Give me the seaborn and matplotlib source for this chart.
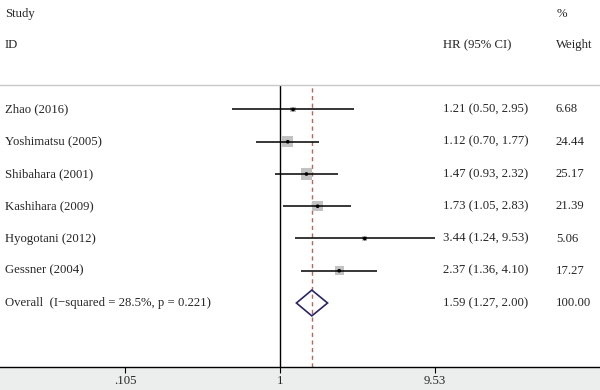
import numpy as np
import pandas as pd
import matplotlib
matplotlib.use("Agg")
import matplotlib.pyplot as plt
from matplotlib.patches import Rectangle, Polygon
import seaborn as sns

studies = ["Zhao (2016)", "Yoshimatsu (2005)", "Shibahara (2001)", "Kashihara (2009)",
           "Hyogotani (2012)", "Gessner (2004)"]
hr = [1.21, 1.12, 1.47, 1.73, 3.44, 2.37]
lo = [0.50, 0.70, 0.93, 1.05, 1.24, 1.36]
hi = [2.95, 1.77, 2.32, 2.83, 9.53, 4.10]
weight = [6.68, 24.44, 25.17, 21.39, 5.06, 17.27]
overall_label = "Overall  (I\u2212squared = 28.5%, p = 0.221)"
overall = [1.59, 1.27, 2.00]
overall_weight = 100.00
xticks = [0.105, 1, 9.53]
xtick_labels = [".105", "1", "9.53"]

sns.set_theme(style="white")
plt.rcParams['font.family'] = ['Liberation Serif', 'DejaVu Serif']
FS = 9.2

W, H = 600, 390
fig = plt.figure(figsize=(6, 3.9), dpi=100)
fig.patch.set_facecolor("white")

top_px, bot_px = 85, 367
ax = fig.add_axes([0, (H - bot_px) / H, 1, (bot_px - top_px) / H])
ax.set_facecolor("white")

# x scale: 1 at pixel 280, 158 px per decade
ppd = 158.0
xl = 10 ** (-280 / ppd)
xr = 10 ** ((600 - 280) / ppd)
ax.set_xscale("log")
ax.set_xlim(xl, xr)

row0 = 109.5
sp = 32.25
ax.set_ylim((bot_px - row0) / sp, (top_px - row0) / sp)

df = pd.DataFrame({"study": studies, "hr": hr, "lo": lo, "hi": hi, "w": weight,
                   "row": np.arange(len(studies))})

# CI lines
ax.hlines(df["row"], df["lo"], df["hi"], color="black", lw=1.1, zorder=3)
# weight squares
sns.scatterplot(data=df, x="hr", y="row", size="w", sizes=(2.56 * min(weight), 2.56 * max(weight)),
                size_norm=(min(weight), max(weight)), marker="s", color="#c2c2c2",
                edgecolor="none", legend=False, ax=ax, zorder=2)
# center dots
sns.scatterplot(data=df, x="hr", y="row", marker="o", color="black", s=7, edgecolor="none",
                legend=False, ax=ax, zorder=4)

# overall diamond
orow = len(studies)
dh = 0.40
diamond = Polygon([[overall[1], orow], [overall[0], orow - dh], [overall[2], orow], [overall[0], orow + dh]],
                  closed=True, facecolor="none", edgecolor="#2b2566", lw=1.2, zorder=4)
ax.add_patch(diamond)

# reference lines
ax.axvline(1, color="black", lw=1.0, zorder=1)
ax.axvline(overall[0], color="#b5675c", lw=1.0, ls=(0, (3, 2.5)), zorder=1)

# spines
for s in ["left", "right"]:
    ax.spines[s].set_visible(False)
ax.spines["top"].set_color("#c8c8c8")
ax.spines["top"].set_linewidth(1.0)
ax.spines["bottom"].set_color("black")
ax.spines["bottom"].set_linewidth(1.0)

ax.set_xticks(xticks)
ax.set_xticklabels(xtick_labels, fontsize=FS)
ax.xaxis.set_minor_locator(matplotlib.ticker.NullLocator())
ax.tick_params(axis="x", direction="out", length=4, width=0.8, color="black", pad=1.5, bottom=True)
ax.set_yticks([])
ax.set_xlabel("")
ax.set_ylabel("")

# bottom gray band
fig.patches.append(Rectangle((0, 0), 1, (H - bot_px) / H, transform=fig.transFigure,
                             facecolor="#eceeee", edgecolor="none", zorder=-1))

def ftext(px, py, s, **kw):
    fig.text(px / W, 1 - py / H, s, fontsize=FS, va="center", ha="left", **kw)

ftext(5, 14, "Study")
ftext(5, 45, "ID")
ftext(443, 45, "HR (95% CI)")
ftext(557, 14, "%")
ftext(556, 45, "Weight")

for i, st in enumerate(studies):
    py = row0 + sp * i
    ftext(5, py, st)
    ftext(443, py, f"{hr[i]:.2f} ({lo[i]:.2f}, {hi[i]:.2f})")
    ftext(556, py, f"{weight[i]:.2f}")
py = row0 + sp * orow
ftext(5, py, overall_label)
ftext(443, py, f"{overall[0]:.2f} ({overall[1]:.2f}, {overall[2]:.2f})")
ftext(556, py, f"{overall_weight:.2f}")

fig.savefig("out.png", dpi=100, facecolor=fig.get_facecolor())
